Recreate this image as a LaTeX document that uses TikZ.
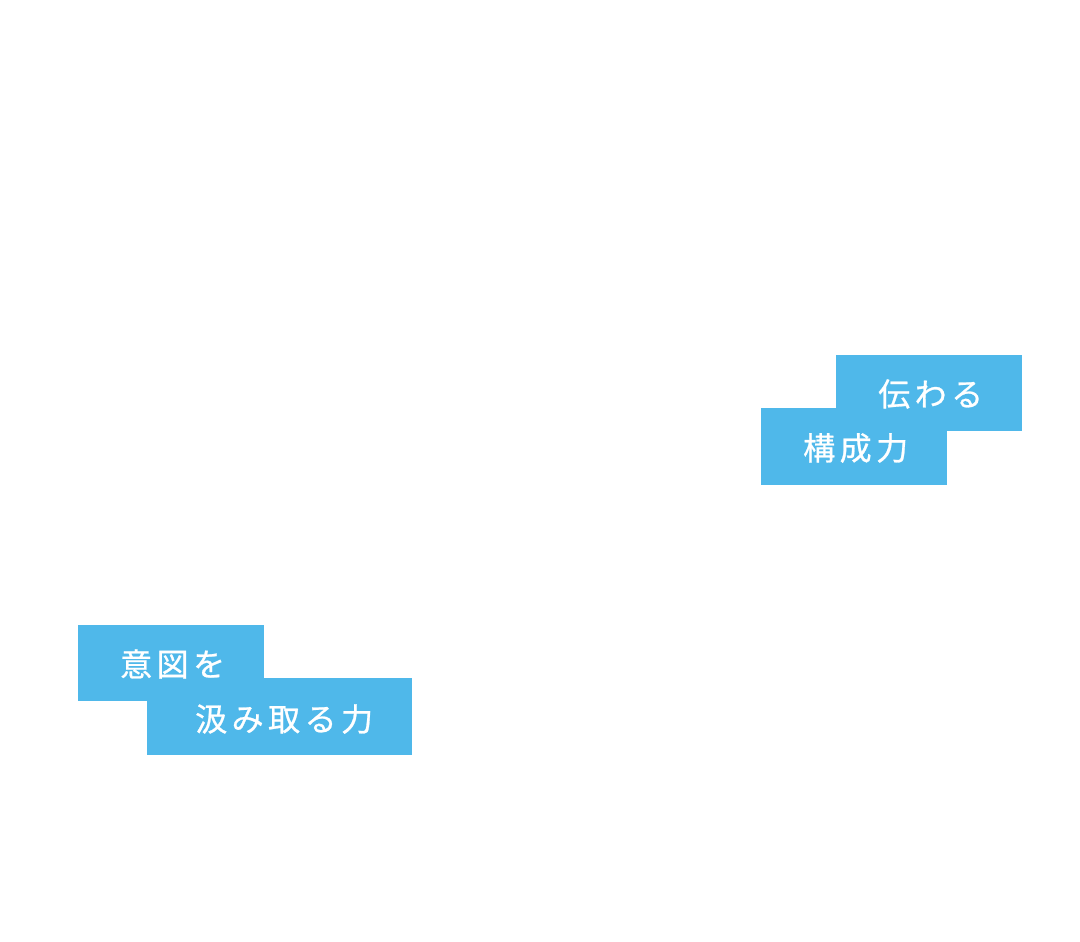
\documentclass[tikz,border=0pt]{standalone}
\usepackage{fontspec}
\newfontfamily\cjk[LetterSpace=14,FakeBold=0.8]{Noto Sans CJK JP}
\definecolor{labelblue}{HTML}{4FB8EA}
\tikzset{
  bluebox/.style={fill=labelblue, draw=none, inner sep=0pt, anchor=north west},
  labeltext/.style={text=white, font=\cjk\fontsize{32}{34}\selectfont, inner sep=0pt, anchor=west}
}
\begin{document}
\begin{tikzpicture}[x=1pt,y=-1pt]
\useasboundingbox (0,0) rectangle (1080,942);
\fill[white] (0,0) rectangle (1080,942);
% group 1
\node[bluebox, minimum width=186pt, minimum height=76pt] (b1) at (836,355) {};
\node[bluebox, minimum width=186pt, minimum height=77pt] (b2) at (761,408) {};
\node[labeltext] (t1) at (878,394) {伝わる};
\node[labeltext] (t2) at (803,448) {構成力};
% group 2
\node[bluebox, minimum width=186pt, minimum height=76pt] (b3) at (78,625) {};
\node[bluebox, minimum width=265pt, minimum height=77pt] (b4) at (147,678) {};
\node[labeltext] (t3) at (120,664) {意図を};
\node[labeltext] (t4) at (195,719) {汲み取る力};
\end{tikzpicture}
\end{document}
